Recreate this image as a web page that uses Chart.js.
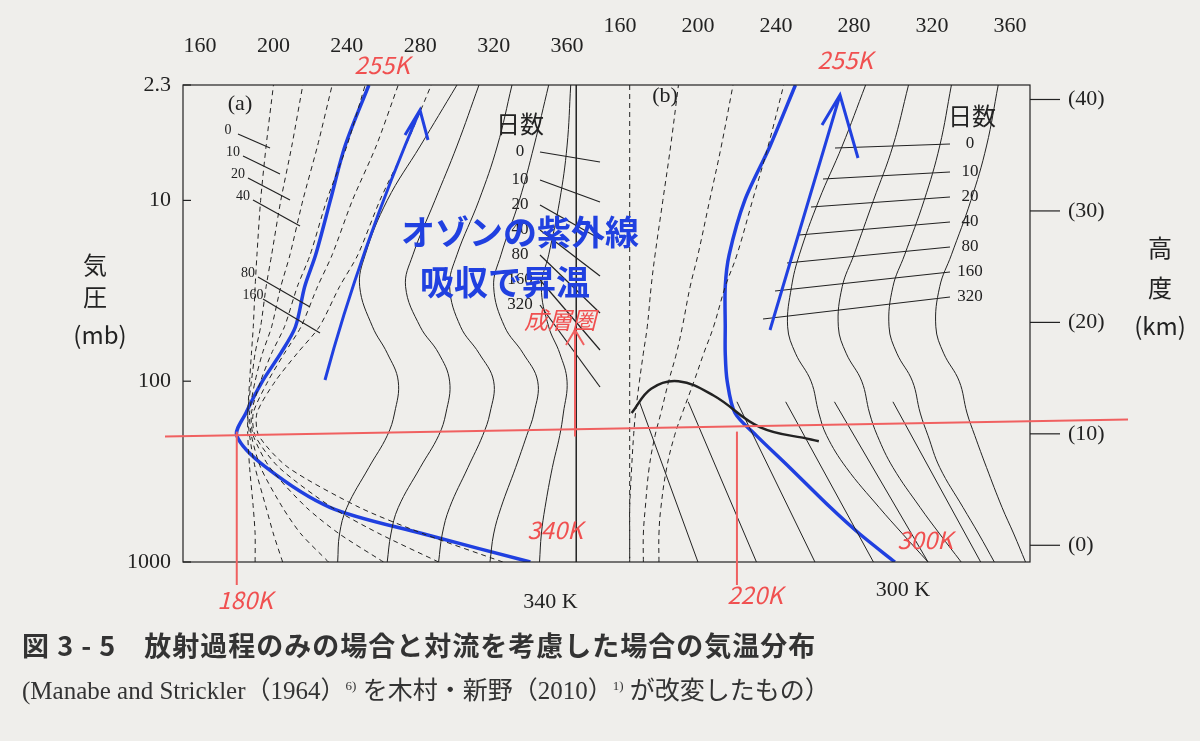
<!DOCTYPE html>
<html><head><meta charset="utf-8">
<script src="https://cdn.jsdelivr.net/npm/chart.js@4"></script>
<style>
html,body{margin:0;padding:0;background:#efeeeb;width:1200px;height:741px;overflow:hidden;font-family:"Noto Sans CJK JP","DejaVu Serif",serif}
#wrap{position:absolute;left:0;top:0;width:1200px;height:741px}
.cap{position:absolute;left:22px;color:#333}
</style></head><body>
<div id="wrap"><canvas id="c" width="1200" height="741"></canvas></div>
<div class="cap" style="top:625px;font-size:27px;font-weight:bold;letter-spacing:1px">図 3 - 5　放射過程のみの場合と対流を考慮した場合の気温分布</div>
<div class="cap" style="top:670px;font-size:25px;font-family:'Liberation Serif','Noto Sans CJK JP',serif">(Manabe and Strickler（1964）<sup style="font-size:13px">6)</sup> を木村・新野（2010）<sup style="font-size:13px">1)</sup> が改変したもの）</div>
<script>
// pressure levels (mb)
const PRESS = [1000, 700, 500, 300, 200, 150, 100, 70, 50, 30, 20, 10, 5, 2.3];
const pTicks = [2.3, 10, 100, 1000];
const kmTicks = [0, 10, 20, 30, 40];
const tempTicks = [160, 200, 240, 280, 320, 360];
// panel (a): radiative only, blue = convective adjusted
const blueA = [340, 282, 231, 196, 180, 185, 194, 204, 212, 217, 223, 231, 239, 252];
const solidA = [
  [235, 236, 240, 252, 262, 266, 268, 262, 254, 247, 250, 262, 280, 300],
  [262, 264, 268, 280, 290, 294, 296, 290, 280, 272, 276, 288, 300, 312],
  [290, 292, 296, 306, 314, 318, 320, 312, 302, 296, 300, 312, 322, 330],
  [318, 320, 324, 332, 338, 342, 344, 336, 326, 320, 324, 334, 342, 350],
  [345, 346, 348, 352, 356, 358, 360, 356, 350, 346, 350, 356, 360, 362]
];
const dashA = [
  [190, 190, 189, 187, 186, 186, 187, 188, 189, 190, 191, 193, 196, 200],
  [205, 200, 196, 190, 187, 186, 188, 190, 193, 196, 199, 204, 210, 216],
  [230, 215, 205, 193, 188, 187, 190, 194, 199, 204, 209, 216, 224, 232],
  [260, 236, 218, 198, 189, 188, 193, 199, 206, 213, 220, 229, 240, 250],
  [290, 258, 232, 203, 190, 189, 197, 206, 215, 224, 232, 243, 256, 268],
  [325, 282, 247, 208, 192, 191, 201, 213, 225, 236, 246, 258, 272, 286]
];
// panel (b)
const blueB = [301, 283, 268, 247, 230, 219, 215, 214, 214, 214, 216, 224, 237, 250];
const solidB = [
  [318, 305, 293, 276, 266, 262, 258, 250, 246, 248, 252, 262, 274, 286],
  [335, 324, 314, 300, 292, 288, 284, 276, 272, 274, 280, 290, 300, 308],
  [352, 344, 336, 324, 318, 314, 310, 302, 298, 300, 306, 316, 324, 330],
  [368, 362, 356, 348, 342, 338, 334, 326, 322, 324, 330, 340, 348, 354]
];
const dashB = [
  [165, 165, 165, 166, 167, 168, 170, 172, 174, 176, 178, 182, 186, 190],
  [172, 172, 173, 175, 178, 181, 185, 189, 192, 196, 200, 206, 212, 218],
  [180, 180, 181, 184, 188, 192, 198, 203, 208, 214, 220, 228, 236, 244]
];
const thickB = { t: [166, 176, 190, 208, 232, 258, 262], p: [150, 110, 100, 120, 180, 210, 215] };
const hatchB = [[170, 200], [195, 230], [220, 260], [245, 290], [270, 318], [300, 345]];
const hatchP = [130, 1000];
const daysA = ['0', '10', '20', '40', '80', '160'];
const daysB = ['0', '10', '20', '40', '80', '160', '320'];

const pts = (arr, pr) => arr.map((t, i) => ({ x: t, y: (pr || PRESS)[i] }));
const ds = [];
const line = (data, o) => ds.push(Object.assign({ data, borderColor: '#222', borderWidth: 1, pointRadius: 0, fill: false, tension: 0.4, xAxisID: 'xa' }, o));
solidA.forEach(a => line(pts(a)));
dashA.forEach(a => line(pts(a), { borderDash: [5, 4], tension: 0.25 }));
solidB.forEach(a => line(pts(a), { xAxisID: 'xb' }));
dashB.forEach(a => line(pts(a), { xAxisID: 'xb', borderDash: [5, 4] }));
hatchB.forEach(h => line([{ x: h[0], y: hatchP[0] }, { x: h[1], y: hatchP[1] }], { xAxisID: 'xb', tension: 0 }));
line(pts(thickB.t, thickB.p), { xAxisID: 'xb', borderWidth: 2.5 });
line([{ x: 365, y: 2.3 }, { x: 365, y: 1000 }], { tension: 0, borderWidth: 1.5 });
line([{ x: 165, y: 2.3 }, { x: 165, y: 1000 }], { xAxisID: 'xb', tension: 0, borderDash: [5, 4] });
line(pts(blueA), { borderColor: '#2040e0', borderWidth: 3.5, tension: 0.3 });
line(pts(blueB), { xAxisID: 'xb', borderColor: '#2040e0', borderWidth: 3.5, tension: 0.3 });

const deco = {
  id: 'deco',
  afterDatasetsDraw(ch) {
    const c = ch.ctx, a = ch.chartArea, xa = ch.scales.xa, xb = ch.scales.xb, y = ch.scales.y, k = ch.scales.yk;
    c.save();
    c.strokeStyle = '#222'; c.lineWidth = 1.2; c.strokeRect(a.left, a.top, a.right - a.left, a.bottom - a.top);
    c.fillStyle = '#222'; c.font = '22px "Liberation Serif",serif'; c.textAlign = 'center'; c.textBaseline = 'bottom';
    tempTicks.forEach(t => { c.fillText(t, xa.getPixelForValue(t), a.top - 28); c.fillText(t, xb.getPixelForValue(t), a.top - 48); });
    c.textAlign = 'right'; c.textBaseline = 'middle';
    pTicks.forEach(p => { const py = y.getPixelForValue(p); c.fillText(p, a.left - 12, py); c.beginPath(); c.moveTo(a.left, py); c.lineTo(a.left + 8, py); c.stroke(); });
    c.textAlign = 'left';
    kmTicks.forEach(v => { const py = k.getPixelForValue(v); c.fillText('(' + v + ')', a.right + 38, py); c.beginPath(); c.moveTo(a.right, py); c.lineTo(a.right + 30, py); c.stroke(); });
    c.font = '24px "Noto Sans CJK JP"'; c.textAlign = 'center';
    c.fillText('気', 95, 265); c.fillText('圧', 95, 297); c.fillText('(mb)', 100, 335);
    c.fillText('高', 1160, 248); c.fillText('度', 1160, 288); c.fillText('(km)', 1160, 326);
    c.fillText('日数', 520, 124); c.fillText('日数', 972, 116);
    c.font = '22px "Liberation Serif",serif';
    c.fillText('(a)', 240, 104); c.fillText('(b)', 665, 96);
    c.fillText('340 K', xa.getPixelForValue(340) + 20, 602); c.fillText('300 K', xb.getPixelForValue(300) + 10, 590);
    c.font = '14px "Liberation Serif",serif';
    daysA.forEach((d, i) => { const yy = 130 + i * 22 + (i > 3 ? 55 : 0); c.fillText(d, 228 + i * 5, yy); c.beginPath(); c.moveTo(238 + i * 5, yy + 4); c.lineTo(270 + i * 10, yy + 18 + i * 4); c.stroke(); });
    c.font = '17px "Liberation Serif",serif';
    daysB.forEach((d, i) => {
      const yy = 152 + i * 25 + (i > 0 ? 3 : 0);
      c.fillText(d, 520, yy); c.beginPath(); c.moveTo(540, yy); c.lineTo(600, yy + 10 + i * 12); c.stroke();
      c.fillText(d, 970, yy - 8); c.beginPath(); c.moveTo(950, yy - 8); c.lineTo(835 - i * 12, yy - 4 + i * 3); c.stroke();
    });
    // handwritten annotations
    c.strokeStyle = '#f06060'; c.lineWidth = 2;
    const ry = y.getPixelForValue(190);
    c.beginPath(); c.moveTo(165, ry + 5); c.lineTo(1128, ry - 12); c.stroke();
    [[xa, 180], [xb, 220]].forEach(([s, t]) => { const px = s.getPixelForValue(t); c.beginPath(); c.moveTo(px, ry); c.lineTo(px, 585); c.stroke(); });
    c.beginPath(); c.moveTo(575, ry + 5); c.lineTo(575, 330); c.moveTo(566, 345); c.lineTo(575, 330); c.lineTo(584, 345); c.stroke();
    c.fillStyle = '#f05050'; c.font = 'italic 24px "Noto Sans CJK JP"';
    c.fillText('255K', 382, 65); c.fillText('255K', 845, 60); c.fillText('340K', 555, 530);
    c.fillText('180K', 245, 600); c.fillText('220K', 755, 595); c.fillText('300K', 925, 540);
    c.fillText('成層圏', 560, 320);
    c.fillStyle = '#2040e0'; c.font = 'bold 34px "Noto Sans CJK JP"';
    c.fillText('オゾンの紫外線', 520, 232); c.fillText('吸収で昇温', 505, 282);
    c.strokeStyle = '#2040e0'; c.lineWidth = 3;
    c.beginPath(); c.moveTo(325, 380); c.quadraticCurveTo(360, 250, 420, 110); c.moveTo(405, 135); c.lineTo(420, 110); c.lineTo(428, 140); c.stroke();
    c.beginPath(); c.moveTo(770, 330); c.quadraticCurveTo(800, 230, 840, 95); c.moveTo(822, 125); c.lineTo(840, 95); c.lineTo(858, 158); c.stroke();
    c.restore();
  }
};

new Chart(document.getElementById('c'), {
  type: 'line',
  data: { datasets: ds },
  options: {
    responsive: false, animation: false, parsing: false, normalized: true,
    layout: { padding: { left: 183, right: 170, top: 85, bottom: 179 } },
    plugins: { legend: { display: false }, tooltip: { enabled: false } },
    scales: {
      xa: { type: 'linear', min: 150.7, max: 612.3, display: false },
      xb: { type: 'linear', min: -64.1, max: 370.3, display: false },
      y: { type: 'logarithmic', min: 2.3, max: 1000, reverse: true, display: false },
      yk: { type: 'linear', min: -1.5, max: 41.3, display: false }
    }
  },
  plugins: [deco]
});
</script></body></html>
